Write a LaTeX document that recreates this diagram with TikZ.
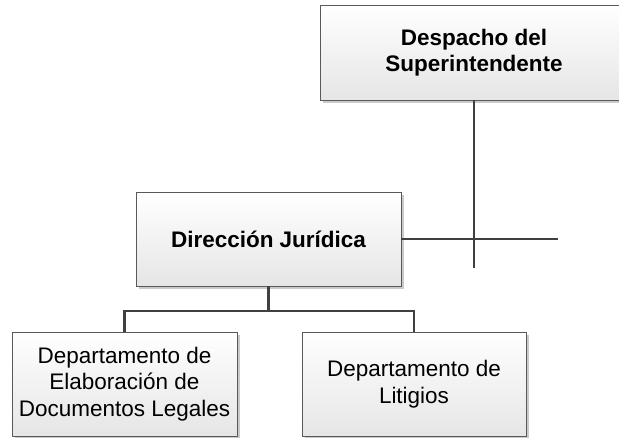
\documentclass[tikz,border=0pt]{standalone}
\usepackage{fontspec}
\setmainfont{Liberation Sans}
\usetikzlibrary{shadows}
\usetikzlibrary{positioning}

\tikzset{
  unitbox/.style={draw=black!65, top color=white, bottom color=black!10,
    drop shadow={shadow xshift=1.5pt, shadow yshift=-1.5pt, fill=black!35, opacity=0.6},
    align=center, inner sep=0pt, font=\fontsize{12.8}{15}\selectfont},
  conn/.style={draw=black!75, line width=1.5pt}
}

\begin{document}
\begin{tikzpicture}[x=0.02cm, y=-0.02cm]
            \useasboundingbox (0,0) rectangle (619,437);
            \node[unitbox, minimum width=6.16cm, minimum height=1.9cm, font=\fontsize{12.8}{15}\selectfont\bfseries] (sup) at (474,52.5) {Despacho del\\Superintendente};
            \node[unitbox, minimum width=5.3cm, minimum height=1.88cm, font=\fontsize{12.8}{15}\selectfont\bfseries] (dir) at (268.5,239) {Dirección Jurídica};
            \node[unitbox, minimum width=4.5cm, minimum height=2.08cm] (elab) at (124.5,384) {Departamento de\\Elaboración de\\Documentos Legales};
            \node[unitbox, minimum width=4.48cm, minimum height=2.08cm] (lit) at (414,384) {Departamento de\\Litigios};
            \coordinate (supend) at (474,268);
            \coordinate (dirend) at (558,239);
            \coordinate (bus) at (268.5,311);
            \draw[conn] (sup.south) -- (supend);
            \draw[conn] (dir.east) -- (dirend);
            \draw[conn] (dir.south) -- (bus);
            \draw[conn] (elab.north) |- (bus) -| (lit.north);
\end{tikzpicture}
\end{document}
